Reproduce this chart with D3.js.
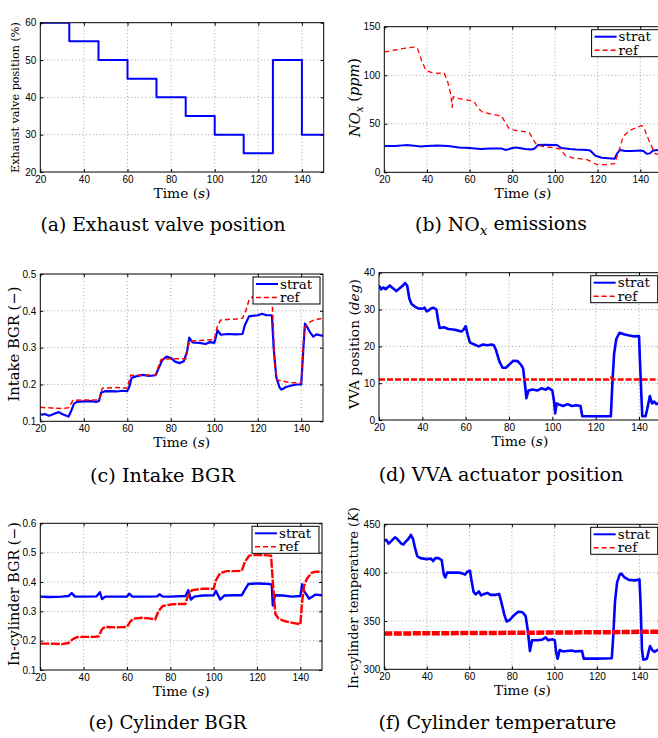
<!DOCTYPE html>
<html>
<head>
<meta charset="utf-8">
<script src="https://cdn.jsdelivr.net/npm/d3@7"></script>
<style>
  body { margin: 0; background: #fff; }
  svg { display: block; }
  .tick text { font-family: "Liberation Sans", Arial, sans-serif; font-size: 10px; fill: #000; }
  .tick line { stroke: #000; }
  .serif { font-family: "DejaVu Serif", serif; fill: #000; }
</style>
</head>
<body>
<div id="viz"></div>
<script>
const colorStrat = '#0000ff';
const colorRef = '#ff0000';

const timeTicks = [20, 40, 60, 80, 100, 120, 140];

// (a) exhaust valve position, step changes
const valveTimes = [20, 33.3, 46.7, 60, 73.3, 86.7, 100, 113.3, 126.7, 140, 150];
const valvePos = [60, 55, 50, 45, 40, 35, 30, 25, 50, 30, 30];

// (b) NOx
const noxStrat = [[20,27],[25,27],[30,28],[33,27.5],[37,26.5],[40,27],[45,27.5],[50,27],[55,25.5],[60,25],[65,24],[70,24.5],[75,24.5],[77,23],[80,25],[82,25.5],[86,24],[89,23.5],[90.5,24.5],[92,28],[95,28.5],[100,28],[101,28],[103,25],[107,24],[110,23.5],[115,23],[116.5,22.5],[119,17],[122,15],[125,14.5],[128,14],[129,19],[130.5,23],[133,22],[136,22],[140,22.5],[141.5,22],[143,19],[144.5,19.5],[146,22.5],[150,23.5]];
const noxRef = [[20,124],[25,126],[30,128],[34.5,129],[35.5,128],[37.5,115],[39.5,105],[42,103],[45,102],[48,102.5],[49.5,95],[51.2,80],[51.8,67],[52.3,78],[55,76],[60,74],[62,73],[64,66],[66,62],[70,60],[75,58],[76.5,52],[78.5,45],[82,43],[88,41],[89.5,35],[91.5,28],[95,26.5],[100,25],[102.5,24],[105,17],[108,15],[115,13],[117,11],[119.5,8],[125,8],[128,9],[130,22],[132,37],[135,43],[138,46],[140.5,48],[141.5,47],[144,33],[147,19],[150,18]];

// (c) intake BGR
const intakeStrat = [[20,0.12],[21,0.118],[22,0.12],[24,0.115],[25,0.117],[27,0.122],[28.5,0.125],[30,0.12],[32,0.115],[33,0.113],[34,0.125],[35.5,0.148],[37,0.153],[40,0.154],[43,0.155],[46,0.153],[47,0.155],[48,0.178],[50,0.182],[55,0.181],[58,0.183],[60,0.182],[61,0.195],[62,0.218],[64,0.222],[67,0.226],[70,0.223],[73,0.225],[74.5,0.245],[76,0.265],[78,0.276],[80,0.272],[82,0.262],[84,0.258],[86,0.263],[87.5,0.29],[88.5,0.327],[90,0.314],[93,0.313],[96,0.31],[98,0.315],[100,0.313],[100.8,0.33],[101.5,0.347],[103,0.335],[106,0.337],[110,0.336],[113,0.337],[114,0.36],[116,0.385],[120,0.388],[122,0.392],[124,0.388],[126.5,0.388],[127.3,0.3],[128.5,0.22],[130,0.192],[131,0.186],[133,0.193],[136,0.198],[138,0.2],[140,0.2],[140.8,0.28],[141.7,0.365],[143,0.353],[144,0.342],[145.5,0.33],[147,0.336],[150,0.332]];
const intakeRef = [[20,0.138],[25,0.136],[30,0.135],[33,0.137],[35,0.157],[40,0.158],[47,0.158],[48.5,0.19],[55,0.192],[60,0.19],[61.5,0.225],[70,0.226],[73,0.226],[75.5,0.268],[80,0.27],[87,0.27],[88.5,0.318],[95,0.32],[100,0.322],[101.5,0.36],[103,0.375],[110,0.378],[113,0.38],[114.5,0.4],[116,0.43],[118,0.44],[126.5,0.44],[127.2,0.35],[127.8,0.25],[129,0.212],[135,0.205],[140,0.205],[140.8,0.3],[141.5,0.355],[144,0.37],[146,0.375],[150,0.38]];

// (d) VVA actuator position
const vvaStrat = [[20,36.5],[21,35.5],[22,36],[23,35.5],[25,36.5],[26,36],[27,35.5],[28,35],[29,35.5],[30,36],[31,36.5],[32,37.2],[33,36.5],[34,33],[35,31.5],[36.5,30.8],[38,30.3],[40,30.2],[41,30.5],[42,29.5],[43,29.8],[44,30.3],[45,30.5],[46.5,30],[47.3,27],[48,25],[50,25.2],[52,24.7],[55,24.5],[57,24.2],[58,24],[59,24.5],[60,25.5],[61,23],[62,21],[64,20.5],[66,20],[68,20.5],[70,20.3],[72,20.5],[73,20.3],[74,19],[75.5,16],[77,14.2],[78.5,14.2],[80,15],[82,16.1],[84,16],[85.5,15],[86.5,14],[87.5,9],[88,5.9],[89,8],[91,8.3],[93,8],[95,8.6],[97,8.2],[98,8.8],[100,8],[100.8,5],[101.3,1.8],[102,4.5],[103,4.2],[105,3.8],[107,4.3],[109,3.8],[111,4],[113,3.8],[113.8,1],[127,1],[127.7,10],[128.5,18],[129.5,22],[131,23.7],[133,23.3],[135,23],[138,22.7],[140,22.8],[140.5,15],[141.2,5],[141.5,1],[143,1],[143.8,3],[145,6.5],[146,4.5],[147,5],[148,4.3],[150,4.8]];
const vvaRef = [[20,11],[126,11],[127,11.5],[128,11],[150,11]];

// (e) in-cylinder BGR
const cylBgrStrat = [[20,0.35],[24,0.349],[30,0.35],[33,0.352],[34.5,0.362],[36,0.35],[40,0.35],[46,0.351],[47.5,0.365],[48.5,0.342],[50,0.35],[55,0.35],[60,0.35],[61,0.36],[62.5,0.35],[70,0.35],[74,0.351],[75,0.358],[76.5,0.35],[80,0.35],[87,0.352],[88.3,0.372],[89.5,0.34],[91,0.35],[95,0.354],[100,0.355],[101,0.37],[103,0.34],[105,0.354],[110,0.355],[113,0.355],[114.5,0.375],[116,0.393],[120,0.395],[124,0.394],[126.8,0.392],[127.3,0.32],[128.3,0.355],[132,0.354],[136,0.35],[140,0.352],[140.8,0.392],[141.8,0.368],[143,0.355],[144,0.343],[145.5,0.35],[147,0.357],[150,0.355]];
const cylBgrRef = [[20,0.19],[25,0.19],[30,0.188],[33,0.192],[35,0.205],[37,0.212],[40,0.213],[45,0.213],[47,0.215],[48.5,0.24],[50,0.247],[55,0.245],[60,0.247],[61.5,0.265],[63,0.275],[67,0.278],[70,0.276],[73,0.272],[74.5,0.3],[76.5,0.318],[80,0.323],[84,0.325],[87,0.325],[88,0.35],[90,0.372],[95,0.377],[100,0.377],[101,0.405],[103,0.43],[106,0.437],[110,0.437],[113,0.438],[114.5,0.47],[116.5,0.49],[120,0.493],[126.5,0.49],[127.5,0.38],[128.5,0.29],[130,0.275],[133,0.266],[137,0.26],[140,0.256],[140.8,0.33],[141.8,0.39],[143,0.41],[145,0.43],[147,0.435],[150,0.435]];

// (f) in-cylinder temperature
const tempStrat = [[20,433],[21,434],[22,430],[23,432],[25,436.5],[26,435],[28,430],[29,429],[30,432],[31,434],[32,437],[32.5,439],[33.5,435],[34.5,425],[35.5,417],[37,415],[40,414],[42,414.5],[43,412],[44,415],[45.5,415],[47,413],[48,398],[48.7,395],[49.5,400],[52,400],[55,400],[57,399],[58,398],[59,401],[60.3,402],[61,392],[62,380],[63,377.5],[64.5,380.5],[65.5,376.5],[67,378],[68.5,379],[70,377],[72.5,377],[74,378],[75,370],[76.5,356],[77.5,349.5],[79,351],[81,356],[83,359.5],[85,359],[86.5,355],[87.5,340],[88.5,319],[89.5,330],[92,330],[94,330.5],[96,333],[97,330],[99,331],[100.2,330],[100.8,318],[101.5,311],[102.5,320],[104,318.5],[106,319],[108,319.5],[110,318.5],[113,319],[113.8,311],[120,311],[127,311.5],[127.7,335],[128.5,370],[129.5,390],[130.7,398],[131.5,399],[133,395],[135,392.5],[138,392],[140,393],[140.5,370],[141.2,320],[141.8,310],[143.5,311],[144.5,320],[145,324],[146,320],[147,318],[148.5,320],[150,318]];
const tempRef = [[20,337],[60,337.5],[100,338],[130,338.5],[150,339]];

const svg = d3.select('#viz').append('svg')
  .attr('width', 658)
  .attr('height', 738);

// shrink/grow a text's font so it spans the length measured on the picture
function fitText(sel, base, target) {
  sel.style('font-size', base + 'px');
  const len = sel.node().getComputedTextLength();
  sel.style('font-size', (base * target / len) + 'px');
}

function addPieces(text, pieces) {
  pieces.forEach(p => {
    const ts = text.append('tspan').text(p.t);
    if (p.i) ts.style('font-style', 'italic');
    if (p.sub) ts.attr('dy', '0.3em').style('font-size', '0.72em');
    if (p.after) ts.attr('dy', '-0.22em');
  });
}

let clipId = 0;

function drawPanel(p) {
  const x = d3.scaleLinear().domain([20, 150]).range([p.left, p.right]);
  const y = d3.scaleLinear().domain(p.yDomain).range([p.bottom, p.top]);
  const g = svg.append('g');

  // dotted grid
  g.append('g').selectAll('line').data(timeTicks.slice(1)).join('line')
    .attr('x1', d => x(d)).attr('x2', d => x(d))
    .attr('y1', p.top).attr('y2', p.bottom)
    .attr('stroke', '#8c8c8c').attr('stroke-width', 0.8).attr('stroke-dasharray', '1,2.5');
  g.append('g').selectAll('line').data(p.yTicks.slice(1, -1)).join('line')
    .attr('y1', d => y(d)).attr('y2', d => y(d))
    .attr('x1', p.left).attr('x2', p.right)
    .attr('stroke', '#8c8c8c').attr('stroke-width', 0.8).attr('stroke-dasharray', '1,2.5');

  // data
  const id = 'clip' + (clipId++);
  svg.append('clipPath').attr('id', id).append('rect')
    .attr('x', p.left).attr('y', p.top)
    .attr('width', p.right - p.left).attr('height', p.bottom - p.top);

  const line = d3.line().x(d => x(d[0])).y(d => y(d[1]));
  p.series.forEach(s => {
    g.append('path')
      .attr('d', line.curve(s.curve || d3.curveLinear)(s.data))
      .attr('clip-path', `url(#${id})`)
      .attr('fill', 'none')
      .attr('stroke', s.color)
      .attr('stroke-width', s.width)
      .attr('stroke-dasharray', s.dash || null)
      .attr('stroke-linejoin', 'round');
  });

  // axes, ticks pointing inward on all four sides
  g.append('g').attr('transform', `translate(0,${p.bottom})`)
    .call(d3.axisBottom(x).tickValues(timeTicks).tickSize(-3).tickPadding(4));
  g.append('g').attr('transform', `translate(${p.left},0)`)
    .call(d3.axisLeft(y).tickValues(p.yTicks).tickSize(-3).tickPadding(4).tickFormat(p.fmt));
  g.append('g').attr('transform', `translate(0,${p.top})`)
    .call(d3.axisTop(x).tickValues(timeTicks).tickSize(-3).tickFormat(''));
  g.append('g').attr('transform', `translate(${p.right},0)`)
    .call(d3.axisRight(y).tickValues(p.yTicks).tickSize(-3).tickFormat(''));
  g.selectAll('.domain').remove();

  g.append('rect')
    .attr('x', p.left).attr('y', p.top)
    .attr('width', p.right - p.left).attr('height', p.bottom - p.top)
    .attr('fill', 'none').attr('stroke', '#000').attr('stroke-width', 1);

  // labels
  const xl = g.append('text').attr('class', 'serif')
    .attr('x', (p.left + p.right) / 2).attr('y', p.bottom + 25.5)
    .attr('text-anchor', 'middle');
  addPieces(xl, [{t: 'Time ('}, {t: 's', i: true}, {t: ')'}]);
  fitText(xl, 14, 57);

  const yl = g.append('text').attr('class', 'serif')
    .attr('transform', `translate(${p.yLabelX},${p.yLabelY}) rotate(-90)`)
    .attr('text-anchor', 'middle');
  addPieces(yl, p.yLabel);
  fitText(yl, 13, p.yLabelLen);

  const cap = g.append('text').attr('class', 'serif')
    .attr('x', p.capX).attr('y', p.capY)
    .attr('text-anchor', 'middle');
  addPieces(cap, p.caption);
  fitText(cap, 17, p.capLen);

  // legend
  if (p.legend) {
    const lw = 67, lh = 27;
    const lg = g.append('g').attr('transform', `translate(${p.right - 3 - lw},${p.top + 3})`);
    lg.append('rect').attr('width', lw).attr('height', lh)
      .attr('fill', '#fff').attr('stroke', '#000').attr('stroke-width', 1);
    const rows = [
      {name: 'strat', color: colorStrat, width: 2, dash: null, yy: 7},
      {name: 'ref', color: colorRef, width: 1.4, dash: '5,3', yy: 20.5}
    ];
    rows.forEach(r => {
      lg.append('line').attr('x1', 3).attr('x2', 25).attr('y1', r.yy).attr('y2', r.yy)
        .attr('stroke', r.color).attr('stroke-width', r.width).attr('stroke-dasharray', r.dash);
      lg.append('text').attr('class', 'serif').attr('x', 27).attr('y', r.yy + 4.5)
        .style('font-size', '13.5px').text(r.name);
    });
  }
}

const valveData = valveTimes.map((t, i) => [t, valvePos[i]]);

drawPanel({
  left: 40.3, right: 323.7, top: 22.7, bottom: 172,
  yDomain: [20, 60], yTicks: [20, 30, 40, 50, 60], fmt: d3.format('d'),
  series: [{data: valveData, color: colorStrat, width: 2, curve: d3.curveStepAfter}],
  legend: false,
  yLabel: [{t: 'Exhaust valve position (%)'}], yLabelX: 18.5, yLabelY: 97.5, yLabelLen: 151,
  caption: [{t: '(a) Exhaust valve position'}], capX: 163, capY: 230.5, capLen: 245
});

drawPanel({
  left: 384.3, right: 661.6, top: 26.7, bottom: 172.3,
  yDomain: [0, 150], yTicks: [0, 50, 100, 150], fmt: d3.format('d'),
  series: [
    {data: noxStrat, color: colorStrat, width: 2},
    {data: noxRef, color: colorRef, width: 1.3, dash: '5,3.5'}
  ],
  legend: true,
  yLabel: [{t: 'NO', i: true}, {t: 'x', i: true, sub: true}, {t: ' (', after: true}, {t: 'ppm', i: true}, {t: ')'}],
  yLabelX: 359.5, yLabelY: 97.5, yLabelLen: 79,
  caption: [{t: '(b) NO'}, {t: 'x', i: true, sub: true}, {t: ' emissions', after: true}], capX: 501, capY: 230.5, capLen: 172
});

drawPanel({
  left: 40.3, right: 323, top: 274, bottom: 421.3,
  yDomain: [0.1, 0.5], yTicks: [0.1, 0.2, 0.3, 0.4, 0.5], fmt: d3.format('.1f'),
  series: [
    {data: intakeStrat, color: colorStrat, width: 2.2},
    {data: intakeRef, color: colorRef, width: 1.5, dash: '5,3'}
  ],
  legend: true,
  yLabel: [{t: 'Intake BGR (−)'}], yLabelX: 18.5, yLabelY: 344, yLabelLen: 115,
  caption: [{t: '(c) Intake BGR'}], capX: 162.5, capY: 481.5, capLen: 145
});

drawPanel({
  left: 379, right: 660.7, top: 272.7, bottom: 420,
  yDomain: [0, 40], yTicks: [0, 10, 20, 30, 40], fmt: d3.format('d'),
  series: [
    {data: vvaStrat, color: colorStrat, width: 2.6},
    {data: vvaRef, color: colorRef, width: 2.6, dash: '6,2'}
  ],
  legend: true,
  yLabel: [{t: 'VVA position ('}, {t: 'deg', i: true}, {t: ')'}], yLabelX: 359, yLabelY: 344, yLabelLen: 130,
  caption: [{t: '(d) VVA actuator position'}], capX: 501, capY: 480.5, capLen: 245
});

drawPanel({
  left: 40.3, right: 322, top: 523.3, bottom: 670,
  yDomain: [0.1, 0.6], yTicks: [0.1, 0.2, 0.3, 0.4, 0.5, 0.6], fmt: d3.format('.1f'),
  series: [
    {data: cylBgrStrat, color: colorStrat, width: 2.4},
    {data: cylBgrRef, color: colorRef, width: 2.4, dash: '9,1.5'}
  ],
  legend: true,
  yLabel: [{t: 'In-cylinder BGR (−)'}], yLabelX: 18.5, yLabelY: 594, yLabelLen: 144,
  caption: [{t: '(e) Cylinder BGR'}], capX: 167.5, capY: 728.5, capLen: 158
});

drawPanel({
  left: 384.3, right: 660.7, top: 524.3, bottom: 669.3,
  yDomain: [300, 450], yTicks: [300, 350, 400, 450], fmt: d3.format('d'),
  series: [
    {data: tempStrat, color: colorStrat, width: 2.6},
    {data: tempRef, color: colorRef, width: 4.5, dash: '8,1.5'}
  ],
  legend: true,
  yLabel: [{t: 'In-cylinder temperature ('}, {t: 'K', i: true}, {t: ')'}], yLabelX: 358, yLabelY: 598, yLabelLen: 182,
  caption: [{t: '(f) Cylinder temperature'}], capX: 497.5, capY: 728.5, capLen: 238
});
</script>
</body>
</html>
